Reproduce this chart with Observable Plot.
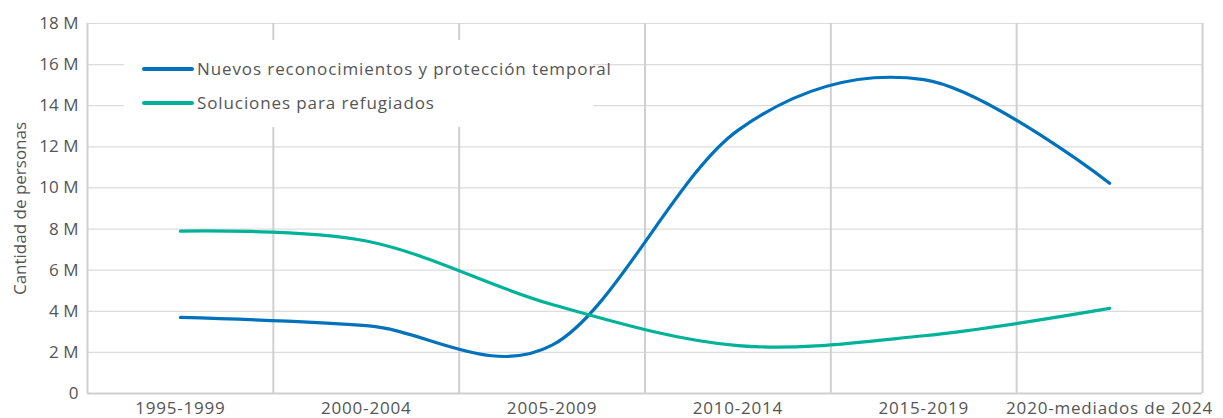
<!DOCTYPE html>
<html>
<head>
<meta charset="utf-8">
<script src="https://cdn.jsdelivr.net/npm/d3@7"></script>
<script src="https://cdn.jsdelivr.net/npm/@observablehq/plot@0.6"></script>
<style>
  html, body { margin: 0; padding: 0; background: #fff; }
  #wrap { position: relative; width: 1223px; height: 418px; font-family: "Open Sans", sans-serif; }
  #legend { position: absolute; left: 124px; top: 40px; width: 469px; height: 87px; background: #fff; }
  .row { position: absolute; left: 18px; display: flex; align-items: center; font-size: 17px; color: #555; white-space: nowrap; letter-spacing: 0.9px; }
  .sw { width: 52px; height: 4px; border-radius: 2px; margin-right: 3px; }
  g[aria-label="x-axis tick label"] text { letter-spacing: 0.8px; }
</style>
</head>
<body>
<div id="wrap"></div>
<script>
const categories = ["1995-1999", "2000-2004", "2005-2009", "2010-2014", "2015-2019", "2020-mediados de 2024"];
const seriesNames = ["Nuevos reconocimientos y protección temporal", "Soluciones para refugiados"];
const nuevos = [3.7, 3.3, 2.35, 12.8, 15.27, 10.23];
const soluciones = [7.9, 7.42, 4.33, 2.33, 2.81, 4.14];
const colors = ["#0072BC", "#00B398"];
const yTicks = [0, 2, 4, 6, 8, 10, 12, 14, 16, 18];

const data = [];
[nuevos, soluciones].forEach((vals, s) => vals.forEach((v, i) => data.push({i, v, serie: seriesNames[s]})));
const bounds = d3.range(categories.length + 1).map(k => k - 0.5);

const chart = Plot.plot({
  width: 1223,
  height: 418,
  marginLeft: 87,
  marginRight: 21,
  marginTop: 23,
  marginBottom: 25,
  style: {fontFamily: "Open Sans, sans-serif", fontSize: "17px", color: "#555", background: "#fff", overflow: "visible"},
  x: {domain: [-0.5, categories.length - 0.5], axis: null},
  y: {domain: [0, 18], axis: null},
  color: {domain: seriesNames, range: colors},
  marks: [
    Plot.ruleY(yTicks.filter(d => d > 0), {stroke: "#dcdcdc", strokeWidth: 1.2}),
    Plot.ruleX(bounds, {stroke: "#d0d0d0", strokeWidth: 2}),
    Plot.ruleY([0], {stroke: "#d0d0d0", strokeWidth: 2}),
    Plot.axisY({ticks: yTicks, tickSize: 0, tickPadding: 9, tickFormat: d => d === 0 ? "0" : d + " M",
      label: "Cantidad de personas", labelAnchor: "center", labelOffset: 74, labelArrow: "none", fill: "#555", fontSize: 17}),
    Plot.axisX({ticks: d3.range(categories.length), tickSize: 0, tickPadding: 8, tickFormat: i => categories[i],
      label: null, fill: "#555", fontSize: 17}),
    Plot.line(data, {x: "i", y: "v", z: "serie", stroke: "serie", strokeWidth: 3.2, curve: "cardinal", tension: 0,
      strokeLinecap: "round", strokeLinejoin: "round"})
  ]
});
const wrap = document.getElementById("wrap");
wrap.appendChild(chart);
const leg = document.createElement("div");
leg.id = "legend";
seriesNames.forEach((n, k) => {
  const r = document.createElement("div");
  r.className = "row";
  r.style.top = (k === 0 ? 17 : 51) + "px";
  r.innerHTML = `<span class="sw" style="background:${colors[k]}"></span><span>${n}</span>`;
  leg.appendChild(r);
});
wrap.appendChild(leg);
</script>
</body>
</html>
